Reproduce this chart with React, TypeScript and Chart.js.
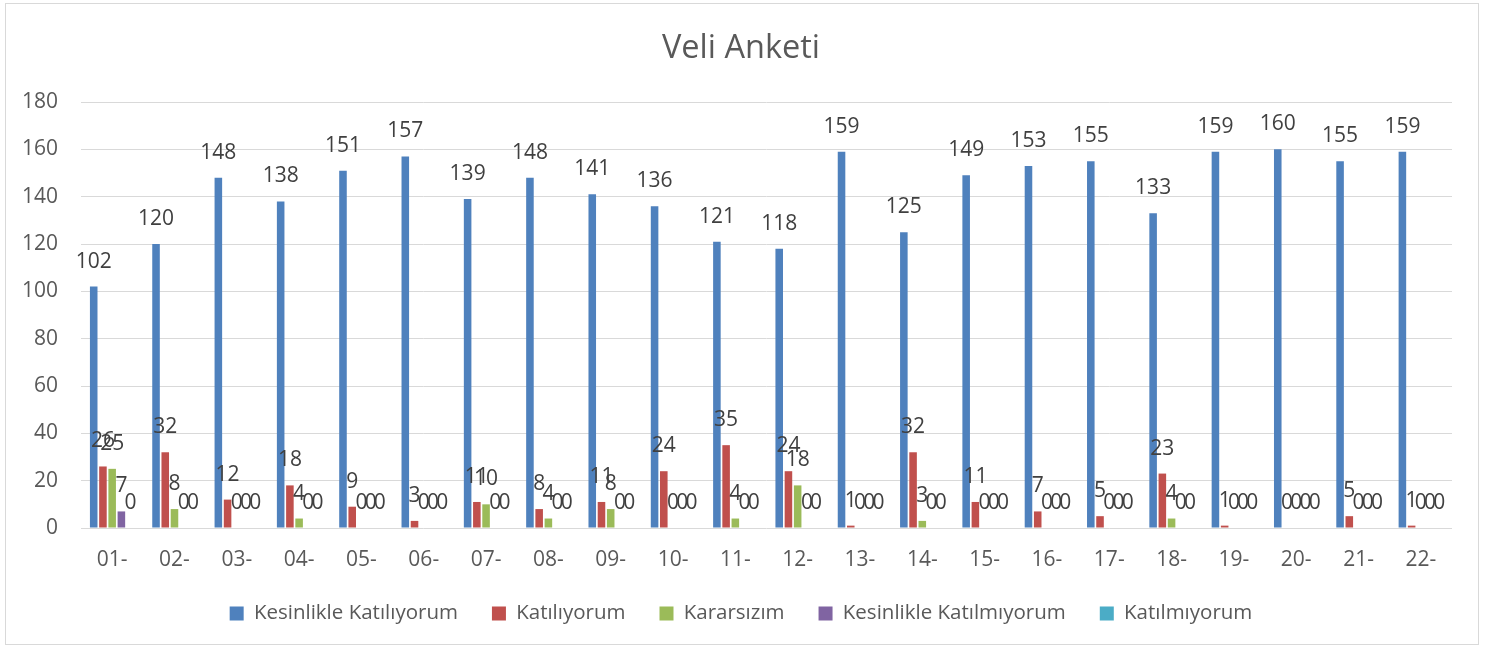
import React, { useEffect, useRef } from "react";
import { Chart, registerables } from "chart.js";

Chart.register(...registerables);

const categories = ["01-", "02-", "03-", "04-", "05-", "06-", "07-", "08-", "09-", "10-", "11-", "12-", "13-", "14-", "15-", "16-", "17-", "18-", "19-", "20-", "21-", "22-"];
const seriesNames = ["Kesinlikle Katılıyorum", "Katılıyorum", "Kararsızım", "Kesinlikle Katılmıyorum", "Katılmıyorum"];
const kesinlikleKatiliyorum = [102, 120, 148, 138, 151, 157, 139, 148, 141, 136, 121, 118, 159, 125, 149, 153, 155, 133, 159, 160, 155, 159];
const katiliyorum = [26, 32, 12, 18, 9, 3, 11, 8, 11, 24, 35, 24, 1, 32, 11, 7, 5, 23, 1, 0, 5, 1];
const kararsizim = [25, 8, 0, 4, 0, 0, 10, 4, 8, 0, 4, 18, 0, 3, 0, 0, 0, 4, 0, 0, 0, 0];
const kesinlikleKatilmiyorum = [7, 0, 0, 0, 0, 0, 0, 0, 0, 0, 0, 0, 0, 0, 0, 0, 0, 0, 0, 0, 0, 0];
const katilmiyorum = [0, 0, 0, 0, 0, 0, 0, 0, 0, 0, 0, 0, 0, 0, 0, 0, 0, 0, 0, 0, 0, 0];
const colors = ["#4f81bd", "#c0504d", "#9bbb59", "#8064a2", "#4bacc6"];
const yTicks = { min: 0, max: 180, step: 20 };

const FONT = "'Open Sans', 'DejaVu Sans', sans-serif";

const valueLabels = {
  id: "valueLabels",
  afterDatasetsDraw(chart: any) {
    const ctx = chart.ctx;
    ctx.save();
    ctx.font = `21px ${FONT}`;
    ctx.fillStyle = "#404040";
    ctx.textAlign = "center";
    ctx.textBaseline = "alphabetic";
    chart.data.datasets.forEach((ds: any, i: number) => {
      const meta = chart.getDatasetMeta(i);
      if (meta.hidden) return;
      meta.data.forEach((el: any, j: number) => {
        ctx.fillText(String(ds.data[j]), el.x, el.y - 19);
      });
    });
    ctx.restore();
  },
};

const frame = {
  id: "frame",
  afterDraw(chart: any) {
    const ctx = chart.ctx;
    ctx.save();
    ctx.strokeStyle = "#d9d9d9";
    ctx.lineWidth = 1;
    ctx.strokeRect(5.5, 3.5, 1473, 641);
    ctx.restore();
  },
};

export default function App() {
  const ref = useRef<HTMLCanvasElement>(null);
  useEffect(() => {
    if (!ref.current) return;
    const series = [kesinlikleKatiliyorum, katiliyorum, kararsizim, kesinlikleKatilmiyorum, katilmiyorum];
    const chart = new Chart(ref.current, {
      type: "bar",
      data: {
        labels: categories,
        datasets: series.map((d, i) => ({
          label: seriesNames[i],
          data: d,
          backgroundColor: colors[i],
          borderWidth: 0,
          categoryPercentage: 0.74,
          barPercentage: 0.82,
          yAxisID: "y",
        })),
      },
      options: {
        animation: false,
        responsive: false,
        layout: { padding: { left: 15, right: 20, top: 0, bottom: 13.25 } },
        plugins: {
          title: {
            display: true,
            text: "Veli Anketi",
            color: "#595959",
            font: { family: FONT, size: 32.5, weight: "normal" },
            padding: { top: 29, bottom: 34 },
          },
          legend: {
            position: "bottom",
            labels: {
              color: "#595959",
              font: { family: FONT, size: 20.5 },
              boxWidth: 14,
              boxHeight: 14,
              padding: 34,
            },
          },
          tooltip: { enabled: false },
        },
        scales: {
          x: {
            grid: { display: false, drawTicks: false },
            border: { display: false },
            ticks: { color: "#595959", font: { family: FONT, size: 21 }, padding: 19 },
            afterFit(scale: any) {
              scale.height = 41.25;
            },
          },
          y: {
            min: yTicks.min,
            max: yTicks.max,
            grid: { color: "#d9d9d9", drawTicks: false },
            border: { display: false },
            ticks: { stepSize: yTicks.step, color: "#595959", font: { family: FONT, size: 21 }, padding: 23 },
            afterFit(scale: any) {
              scale.width = 66;
            },
          },
          yRight: {
            position: "right",
            min: yTicks.min,
            max: yTicks.max,
            grid: { display: false, drawTicks: false },
            border: { display: false },
            ticks: { display: false },
            afterFit(scale: any) {
              scale.width = 15;
            },
          },
        },
      },
      plugins: [valueLabels, frame],
    });
    return () => chart.destroy();
  }, []);
  return (
    <div style={{ position: "absolute", left: 0, top: 0, width: 1487, height: 647 }}>
      <canvas ref={ref} width={1487} height={647} />
    </div>
  );
}
